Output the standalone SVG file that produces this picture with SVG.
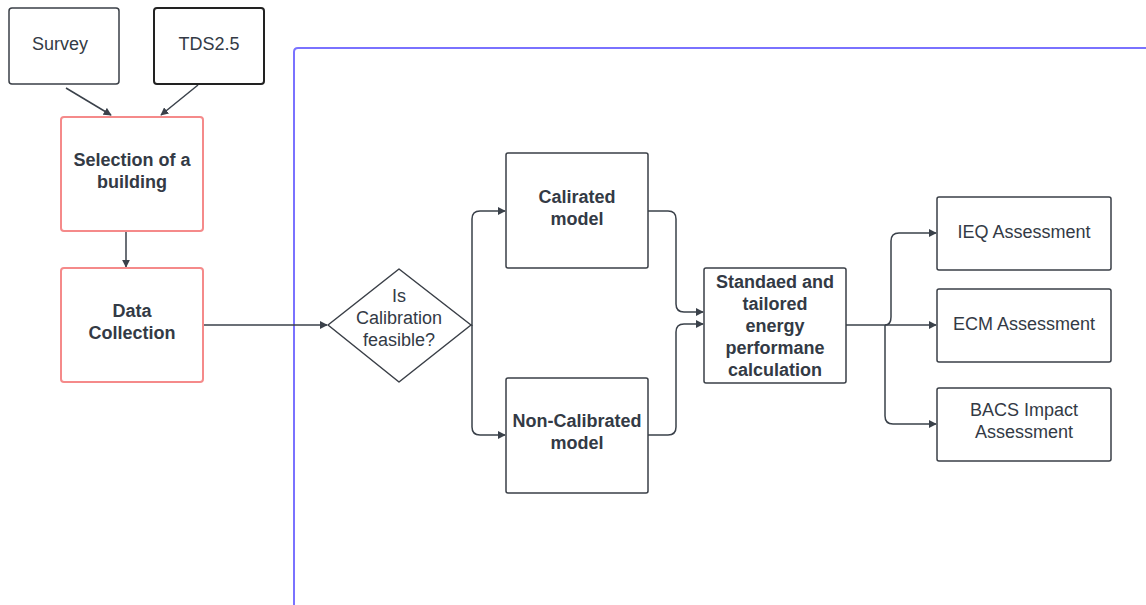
<svg xmlns="http://www.w3.org/2000/svg" width="1146" height="605" viewBox="0 0 1146 605">
  <style>
    .box { fill: #ffffff; stroke: #3a3f47; stroke-width: 1.5; }
    .box-dark { fill: #ffffff; stroke: #222222; stroke-width: 2; }
    .box-red { fill: #ffffff; stroke: #f58a8a; stroke-width: 2; }
    .frame { fill: none; stroke: #7a72ff; stroke-width: 2; }
    .conn { fill: none; stroke: #3a414a; stroke-width: 1.5; }
    text { font-family: "Liberation Sans", Arial, sans-serif; font-size: 18px; fill: #333a45; text-anchor: middle; }
    .b { font-weight: bold; }
  </style>
  <defs>
    <marker id="arrow" viewBox="0 0 10 10" refX="9" refY="5" markerWidth="8" markerHeight="8" markerUnits="userSpaceOnUse" orient="auto">
      <path d="M0,0 L10,5 L0,10 z" fill="#3a414a"/>
    </marker>
  </defs>

  <!-- outer frame -->
  <path class="frame" d="M294,610 L294,52 Q294,48 298,48 L1150,48"/>

  <!-- connectors -->
  <g id="connectors">
    <line class="conn" x1="66" y1="88" x2="111" y2="115" marker-end="url(#arrow)"/>
    <line class="conn" x1="198" y1="85" x2="161" y2="115" marker-end="url(#arrow)"/>
    <line class="conn" x1="126" y1="231" x2="126" y2="267" marker-end="url(#arrow)"/>
    <line class="conn" x1="203" y1="325" x2="327" y2="325" marker-end="url(#arrow)"/>
    <path class="conn" d="M471,325 L472,325 L472,219 Q472,211 480,211 L505,211" marker-end="url(#arrow)"/>
    <path class="conn" d="M472,325 L472,427 Q472,435 480,435 L505,435" marker-end="url(#arrow)"/>
    <path class="conn" d="M648,211 L668,211 Q676,211 676,219 L676,304 Q676,312 684,312 L703,312" marker-end="url(#arrow)"/>
    <path class="conn" d="M648,435 L668,435 Q676,435 676,427 L676,332 Q676,324 684,324 L703,324" marker-end="url(#arrow)"/>
    <path class="conn" d="M846,325 L885,325 Q891,325 891,317 L891,241 Q891,233 899,233 L936,233" marker-end="url(#arrow)"/>
    <line class="conn" x1="885" y1="325" x2="936" y2="325" marker-end="url(#arrow)"/>
    <path class="conn" d="M885,325 L885,416 Q885,424 893,424 L936,424" marker-end="url(#arrow)"/>
  </g>

  <g id="survey">
    <rect class="box" x="9" y="8" width="110" height="76" rx="3"/>
    <text x="60" y="50">Survey</text>
  </g>
  <g id="tds">
    <rect class="box-dark" x="154" y="8" width="110" height="76" rx="3"/>
    <text x="209" y="50">TDS2.5</text>
  </g>
  <g id="selection">
    <rect class="box-red" x="61" y="117" width="142" height="114" rx="3"/>
    <text class="b" x="132" y="166">Selection of a</text>
    <text class="b" x="132" y="188">building</text>
  </g>
  <g id="data-collection">
    <rect class="box-red" x="61" y="268" width="142" height="114" rx="3"/>
    <text class="b" x="132" y="317">Data</text>
    <text class="b" x="132" y="339">Collection</text>
  </g>
  <g id="decision">
    <path class="box" d="M328,325 L399,269 L471,325 L399,382 z" stroke-linejoin="round"/>
    <text x="399" y="302">Is</text>
    <text x="399" y="324">Calibration</text>
    <text x="399" y="346">feasible?</text>
  </g>
  <g id="calibrated">
    <rect class="box" x="506" y="153" width="142" height="115" rx="2"/>
    <text class="b" x="577" y="203">Calirated</text>
    <text class="b" x="577" y="225">model</text>
  </g>
  <g id="non-calibrated">
    <rect class="box" x="506" y="378" width="142" height="115" rx="2"/>
    <text class="b" x="577" y="427">Non-Calibrated</text>
    <text class="b" x="577" y="449">model</text>
  </g>
  <g id="calculation">
    <rect class="box" x="704" y="268" width="142" height="115" rx="2"/>
    <text class="b" x="775" y="288">Standaed and</text>
    <text class="b" x="775" y="310">tailored</text>
    <text class="b" x="775" y="332">energy</text>
    <text class="b" x="775" y="354">performane</text>
    <text class="b" x="775" y="376">calculation</text>
  </g>
  <g id="ieq">
    <rect class="box" x="937" y="197" width="174" height="73" rx="2"/>
    <text x="1024" y="238">IEQ Assessment</text>
  </g>
  <g id="ecm">
    <rect class="box" x="937" y="289" width="174" height="73" rx="2"/>
    <text x="1024" y="330">ECM Assessment</text>
  </g>
  <g id="bacs">
    <rect class="box" x="937" y="388" width="174" height="73" rx="2"/>
    <text x="1024" y="416">BACS Impact</text>
    <text x="1024" y="438">Assessment</text>
  </g>
</svg>
